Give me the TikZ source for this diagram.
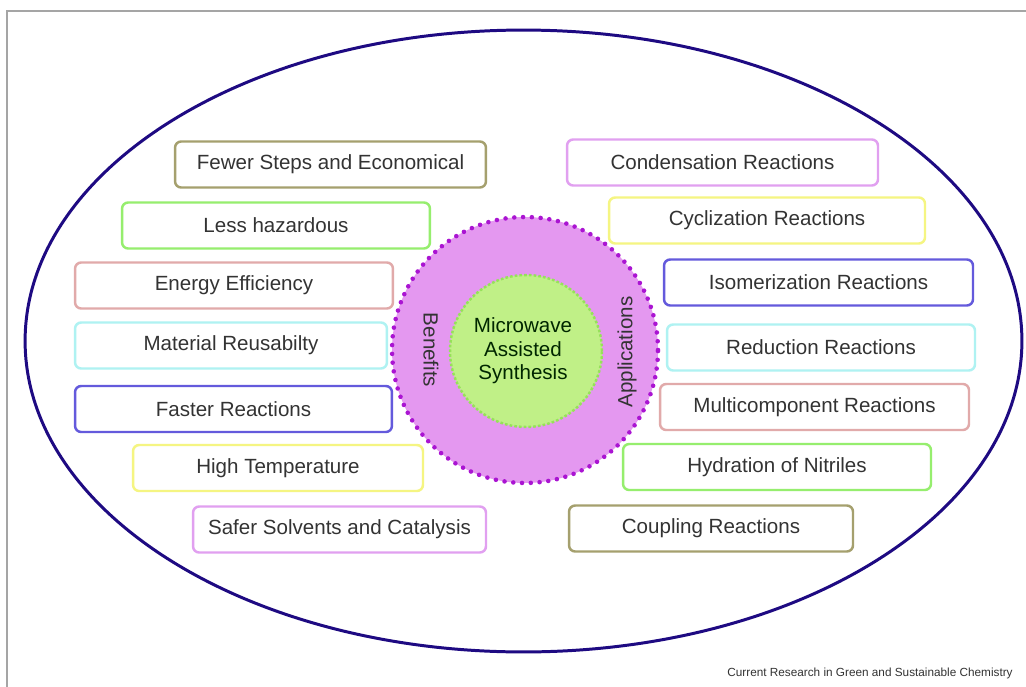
\documentclass[tikz,border=0pt]{standalone}
\usepackage{fontspec}
\setmainfont{Liberation Sans}
\usepackage{tikz}
\usetikzlibrary{shapes.geometric}
\definecolor{navyline}{RGB}{30,10,130}
\definecolor{framegrey}{RGB}{165,165,165}
\definecolor{olivebox}{RGB}{165,160,110}
\definecolor{greenbox}{RGB}{150,238,110}
\definecolor{pinkbox}{RGB}{225,170,170}
\definecolor{cyanbox}{RGB}{175,242,242}
\definecolor{bluebox}{RGB}{100,90,220}
\definecolor{yellowbox}{RGB}{245,245,130}
\definecolor{violetbox}{RGB}{225,160,240}
\definecolor{ringfill}{RGB}{228,152,240}
\definecolor{ringdots}{RGB}{170,20,210}
\definecolor{corefill}{RGB}{192,240,135}
\definecolor{coreline}{RGB}{150,225,90}
\tikzstyle{item} = [rectangle, rounded corners=3.5pt, minimum height=0.92cm, text centered, line width=1.4pt, fill=white, text=black!80, font=\fontsize{11.7}{14}\selectfont]
\tikzstyle{ring} = [circle, fill=ringfill, minimum size=5.32cm]
\tikzstyle{ringedge} = [draw=ringdots, line width=2.6pt, line cap=round, dash pattern=on 0pt off 5pt]
\tikzstyle{core} = [circle, fill=corefill, draw=coreline, line width=1.4pt, dash pattern=on 1.5pt off 1.2pt, minimum size=3.04cm]
\tikzstyle{label} = [text=black!80, font=\fontsize{11.7}{13.4}\selectfont, align=center]

\begin{document}
\begin{tikzpicture}[x=0.02cm, y=-0.02cm]
	\useasboundingbox (0,0) rectangle (1026,686);
	\clip (0,0) rectangle (1026,686);
	\fill[white] (0,0) rectangle (1026,686);
	\draw[framegrey, line width=0.8pt] (7,11) rectangle (1040,700);

	\node (outer) [ellipse, draw=navyline, line width=1.7pt, minimum width=19.94cm, minimum height=12.44cm] at (523.5,341) {};

	% centre
	\node (benefitsring) [ring] at (525,350) {};
	\draw [ringedge] (benefitsring.center) circle (2.66cm);
	\node (mas) [core] at (526,351) {};
	\node (mastext) [label, text=black!85!green] at (523,351) {Microwave\\Assisted\\Synthesis};
	\node (benefits) [label, rotate=-90] at (431,350) {Benefits};
	\node (applications) [label, rotate=90] at (627,352) {Applications};

	% benefits
	\node (fewer) [item, draw=olivebox, minimum width=6.22cm] at (330.5,164.5) {Fewer Steps and Economical};
	\node (hazard) [item, draw=greenbox, minimum width=6.16cm] at (276,225.5) {Less hazardous};
	\node (energy) [item, draw=pinkbox, minimum width=6.36cm] at (234,285.5) {Energy Efficiency};
	\node (reuse) [item, draw=cyanbox, minimum width=6.24cm] at (231,345.5) {Material Reusabilty};
	\node (faster) [item, draw=bluebox, minimum width=6.34cm] at (233.5,409) {Faster Reactions};
	\node (hightemp) [item, draw=yellowbox, minimum width=5.8cm] at (278,468) {High Temperature};
	\node (safer) [item, draw=violetbox, minimum width=5.86cm] at (339.5,529.5) {Safer Solvents and Catalysis};

	% applications
	\node (condens) [item, draw=violetbox, minimum width=6.22cm] at (722.5,162.5) {Condensation Reactions};
	\node (cycl) [item, draw=yellowbox, minimum width=6.32cm] at (767,220.5) {Cyclization Reactions};
	\node (isom) [item, draw=bluebox, minimum width=6.18cm] at (818.5,282.5) {Isomerization Reactions};
	\node (reduct) [item, draw=cyanbox, minimum width=6.16cm] at (821,347.5) {Reduction Reactions};
	\node (multi) [item, draw=pinkbox, minimum width=6.18cm] at (814.5,407) {Multicomponent Reactions};
	\node (hydra) [item, draw=greenbox, minimum width=6.16cm] at (777,467) {Hydration of Nitriles};
	\node (coupl) [item, draw=olivebox, minimum width=5.68cm] at (711,528.5) {Coupling Reactions};

	\node (source) [text=black!80, font=\fontsize{6.7}{8}\selectfont] at (870,673) {Current Research in Green and Sustainable Chemistry};
\end{tikzpicture}
\end{document}
